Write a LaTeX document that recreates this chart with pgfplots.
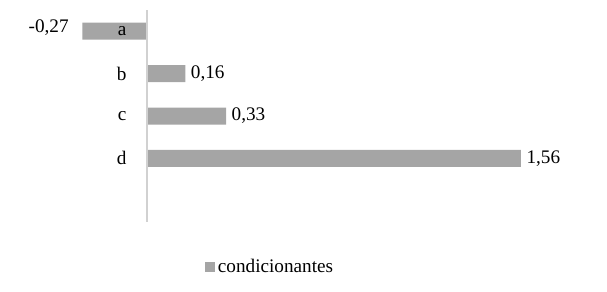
\documentclass[border=0pt,12pt]{standalone}
\usepackage{fontspec}
\setmainfont{Liberation Serif}
\usepackage{pgfplots}
\pgfplotsset{compat=1.18}
\definecolor{barc}{HTML}{A5A5A5}
\begin{document}
\begin{tikzpicture}
\begin{axis}[
  at={(20.36pt,52.5pt)}, anchor=south west,
  scale only axis,
  width=431.5pt, height=159pt,
  xbar, bar width=12.75pt,
  xmin=-0.5, xmax=1.9,
  ymin=-0.5, ymax=4.5, y dir=reverse,
  ytick={0,1,2,3}, yticklabels={a,b,c,d},
  axis on top,
  axis x line=none,
  axis y line*=center,
  y axis line style={draw=black!18, line width=0.8pt},
  ytick style={draw=none},
  yticklabel style={anchor=east, xshift=-7pt, font=\large},
  nodes near coords,
  nodes near coords align=horizontal,
  visualization depends on={rawx \as \rawx},
  every node near coord/.append style={font=\large, xshift={-6*(\rawx<0)}, yshift={3*(\rawx<0)}, /pgf/number format/assume math mode=true, /pgf/number format/.cd, use comma, fixed, fixed zerofill, precision=2},
  legend style={draw=none, at={(0.423,-0.212)}, anchor=center, font=\large, inner sep=0pt},
  legend image code/.code={\fill[barc] (0pt,-3.75pt) rectangle (7.5pt,3.75pt);},
  clip=false,
]
\addplot[fill=barc, draw=none] coordinates {(-0.27,0) (0.16,1) (0.33,2) (1.56,3)};
\addlegendentry{condicionantes}
\end{axis}
\pgfresetboundingbox
\path[use as bounding box] (0pt,0pt) rectangle (455.25pt,219pt);
\end{tikzpicture}
\end{document}
